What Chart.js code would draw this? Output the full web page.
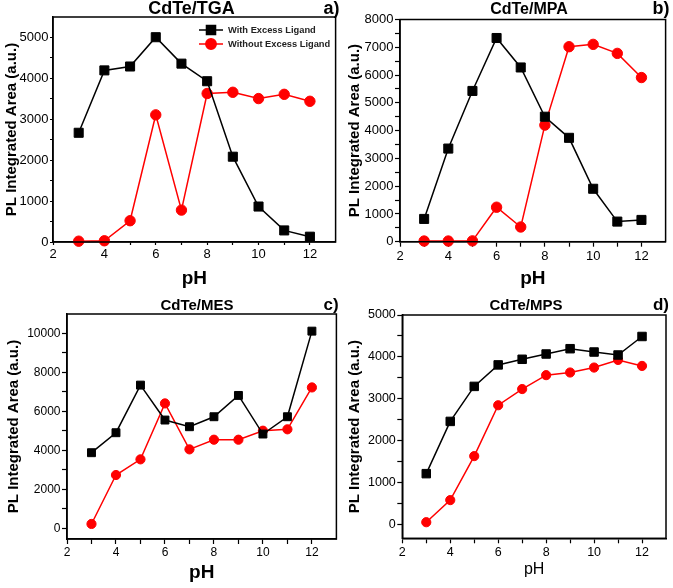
<!DOCTYPE html>
<html><head><meta charset="utf-8">
<script src="https://cdn.jsdelivr.net/npm/chart.js@4.4.1/dist/chart.umd.min.js"></script>
<style>
html,body{margin:0;padding:0;background:#fff;}
body{width:673px;height:588px;position:relative;overflow:hidden;}
canvas{position:absolute;}
</style></head><body>
<canvas id="ca" width="343" height="290" style="left:0;top:0"></canvas>
<canvas id="cb" width="333" height="290" style="left:340px;top:0"></canvas>
<canvas id="cc" width="343" height="298" style="left:0;top:290px"></canvas>
<canvas id="cd" width="333" height="298" style="left:340px;top:290px"></canvas>
<script>
// ---- data ----
const pH = [3, 4, 5, 6, 7, 8, 9, 10, 11, 12];
const seriesNames = ['With Excess Ligand', 'Without Excess Ligand'];
const tgaWith    = [2670, 4195, 4290, 5006, 4360, 3930, 2085, 867, 283, 130];
const tgaWithout = [20, 30, 520, 3108, 780, 3630, 3660, 3506, 3610, 3440];
const mpaWith    = [820, 3353, 5428, 7334, 6273, 4500, 3740, 1906, 724, 784];
const mpaWithout = [24, 24, 30, 1242, 530, 4198, 7020, 7105, 6780, 5910];
const mesWith    = [3880, 4906, 7350, 5556, 5214, 5726, 6820, 4838, 5726, 10120];
const mesWithout = [222, 2735, 3538, 6410, 4051, 4547, 4547, 5009, 5080, 7230];
const mpsWith    = [1220, 2465, 3299, 3811, 3945, 4071, 4197, 4118, 4047, 4488];
const mpsWithout = [63, 590, 1638, 2850, 3236, 3567, 3630, 3748, 3929, 3787];
// tick marks (labelled ticks and unlabelled minor ticks)
const xTickValues = [2, 3, 4, 5, 6, 7, 8, 9, 10, 11, 12];
const xTickLabels = [2, 4, 6, 8, 10, 12];
const tgaYTicks = [0, 500, 1000, 1500, 2000, 2500, 3000, 3500, 4000, 4500, 5000];
const tgaYLabels = [0, 1000, 2000, 3000, 4000, 5000];
const mpaYTicks = [0, 500, 1000, 1500, 2000, 2500, 3000, 3500, 4000, 4500, 5000, 5500, 6000, 6500, 7000, 7500, 8000];
const mpaYLabels = [0, 1000, 2000, 3000, 4000, 5000, 6000, 7000, 8000];
const mesYTicks = [0, 1000, 2000, 3000, 4000, 5000, 6000, 7000, 8000, 9000, 10000];
const mesYLabels = [0, 2000, 4000, 6000, 8000, 10000];
const mpsYTicks = [0, 500, 1000, 1500, 2000, 2500, 3000, 3500, 4000, 4500, 5000];
const mpsYLabels = [0, 1000, 2000, 3000, 4000, 5000];
const panelTitles = ['CdTe/TGA', 'CdTe/MPA', 'CdTe/MES', 'CdTe/MPS'];
const panelTags = ['a)', 'b)', 'c)', 'd)'];
const xTitle = 'pH';
const yTitle = 'PL Integrated Area (a.u.)';

const FONT = "'Liberation Sans', Arial, sans-serif";
const RED = '#ff0000';

function pts(ys) { return pH.map((x, i) => ({x: x, y: ys[i]})); }

function makePanel(p) {
  const deco = {
    id: 'deco',
    afterDraw(chart) {
      const ctx = chart.ctx, a = chart.chartArea;
      ctx.save();
      ctx.strokeStyle = '#000'; ctx.lineWidth = 1.5;
      ctx.strokeRect(a.left, a.top, a.right - a.left, a.bottom - a.top);
      ctx.fillStyle = '#000';
      ctx.textBaseline = 'middle'; ctx.textAlign = 'center';
      ctx.font = 'bold ' + p.titleSize + 'px ' + FONT;
      ctx.fillText(p.title, p.titleX, p.titleY);
      ctx.font = 'bold ' + p.tagSize + 'px ' + FONT;
      ctx.fillText(p.tag, p.tagX, p.titleY);
      if (p.legend) {
        const rows = [30, 44];
        chart.data.datasets.forEach((ds, i) => {
          const y = rows[i];
          ctx.strokeStyle = ds.borderColor; ctx.lineWidth = 1.5;
          ctx.beginPath(); ctx.moveTo(199, y); ctx.lineTo(223, y); ctx.stroke();
          ctx.fillStyle = ds.backgroundColor; ctx.strokeStyle = ds.borderColor;
          Chart.helpers.drawPoint(ctx, {pointStyle: ds.pointStyle, radius: ds.pointRadius, rotation: 0, borderWidth: 1}, 211, y);
          ctx.fillStyle = '#222';
          ctx.textAlign = 'left';
          ctx.font = 'bold 9.3px ' + FONT;
          ctx.fillText(ds.label, 228, y);
        });
      }
      ctx.restore();
    }
  };
  const grid = {drawOnChartArea: false, tickLength: p.tickLen, tickColor: '#000', tickWidth: 1.2};
  return new Chart(document.getElementById(p.id), {
    type: 'line',
    data: {
      datasets: [
        {label: seriesNames[0], data: pts(p.w), borderColor: '#000', backgroundColor: '#000',
         pointStyle: 'rect', pointRadius: p.rectR, pointBorderWidth: 1, borderWidth: 1.5, tension: 0, clip: false},
        {label: seriesNames[1], data: pts(p.wo), borderColor: RED, backgroundColor: RED,
         pointStyle: 'circle', pointRadius: p.circR, pointBorderWidth: 1, borderWidth: 1.5, tension: 0, clip: false}
      ]
    },
    options: {
      responsive: false, animation: false, devicePixelRatio: 1,
      layout: {padding: {left: 0, top: p.padTop, right: p.padRight, bottom: 0}},
      plugins: {legend: {display: false}, tooltip: {enabled: false}, title: {display: false}},
      scales: {
        x: {
          type: 'linear', position: 'bottom', min: 2, max: 13,
          afterFit: s => { s.height = p.xH; },
          afterBuildTicks: s => { s.ticks = xTickValues.map(v => ({value: v})); },
          ticks: {autoSkip: false, maxRotation: 0, padding: 1.5, color: '#000',
                  font: {family: FONT, size: p.tickSize},
                  callback: v => (xTickLabels.includes(v) ? String(v) : '')},
          grid: grid,
          border: {color: '#000', width: 1.5},
          title: {display: true, text: xTitle, color: '#000', padding: {top: 0, bottom: p.xTitlePad},
                  font: {family: FONT, size: p.xTitleSize, weight: p.xTitleBold ? 'bold' : 'normal'}}
        },
        y: {
          type: 'linear', position: 'left', min: p.yMin, max: p.yMax,
          afterFit: s => { s.width = p.yW; },
          afterBuildTicks: s => { s.ticks = p.yTicks.map(v => ({value: v})); },
          ticks: {autoSkip: false, padding: 1.5, color: '#000',
                  font: {family: FONT, size: p.tickSize},
                  callback: v => (p.yLabels.includes(v) ? String(v) : '')},
          grid: grid,
          border: {color: '#000', width: 1.5},
          title: {display: true, text: yTitle, color: '#000', padding: {top: p.yTitlePad, bottom: 0},
                  font: {family: FONT, size: 15, weight: 'bold'}}
        }
      }
    },
    plugins: [deco]
  });
}

makePanel({id: 'ca', w: tgaWith, wo: tgaWithout, title: panelTitles[0], tag: panelTags[0],
  titleSize: 18, tagSize: 18, titleX: 191.5, titleY: 9.5, tagX: 331.5, legend: true, tickLen: 3,
  padTop: 17, padRight: 2, xH: 48, yW: 53, yMin: 0, yMax: 5500, yTicks: tgaYTicks, yLabels: tgaYLabels,
  tickSize: 13, xTitleSize: 19, xTitleBold: true, xTitlePad: 0, yTitlePad: 3, rectR: 6.4, circR: 5.2});

makePanel({id: 'cb', w: mpaWith, wo: mpaWithout, title: panelTitles[1], tag: panelTags[1],
  titleSize: 16, tagSize: 18, titleX: 189, titleY: 9.5, tagX: 321, legend: false, tickLen: 5,
  padTop: 19.5, padRight: 2, xH: 48.3, yW: 60, yMin: 0, yMax: 8000, yTicks: mpaYTicks, yLabels: mpaYLabels,
  tickSize: 13, xTitleSize: 19, xTitleBold: true, xTitlePad: 0, yTitlePad: 6, rectR: 6.4, circR: 5.2});

makePanel({id: 'cc', w: mesWith, wo: mesWithout, title: panelTitles[2], tag: panelTags[2],
  titleSize: 15, tagSize: 17, titleX: 197, titleY: 15.5, tagX: 331, legend: false, tickLen: 5,
  padTop: 24, padRight: 5, xH: 49, yW: 67, yMin: -550, yMax: 11000, yTicks: mesYTicks, yLabels: mesYLabels,
  tickSize: 12, xTitleSize: 19, xTitleBold: true, xTitlePad: 3.6, yTitlePad: 4.5, rectR: 5.6, circR: 4.6});

makePanel({id: 'cd', w: mpsWith, wo: mpsWithout, title: panelTitles[3], tag: panelTags[3],
  titleSize: 15, tagSize: 17, titleX: 186, titleY: 15.5, tagX: 321, legend: false, tickLen: 5,
  padTop: 25, padRight: 2.3, xH: 49.7, yW: 62.3, yMin: -320, yMax: 5000, yTicks: mpsYTicks, yLabels: mpsYLabels,
  tickSize: 12.5, xTitleSize: 16, xTitleBold: false, xTitlePad: 8.4, yTitlePad: 6, rectR: 6, circR: 4.6});
</script>
</body></html>
